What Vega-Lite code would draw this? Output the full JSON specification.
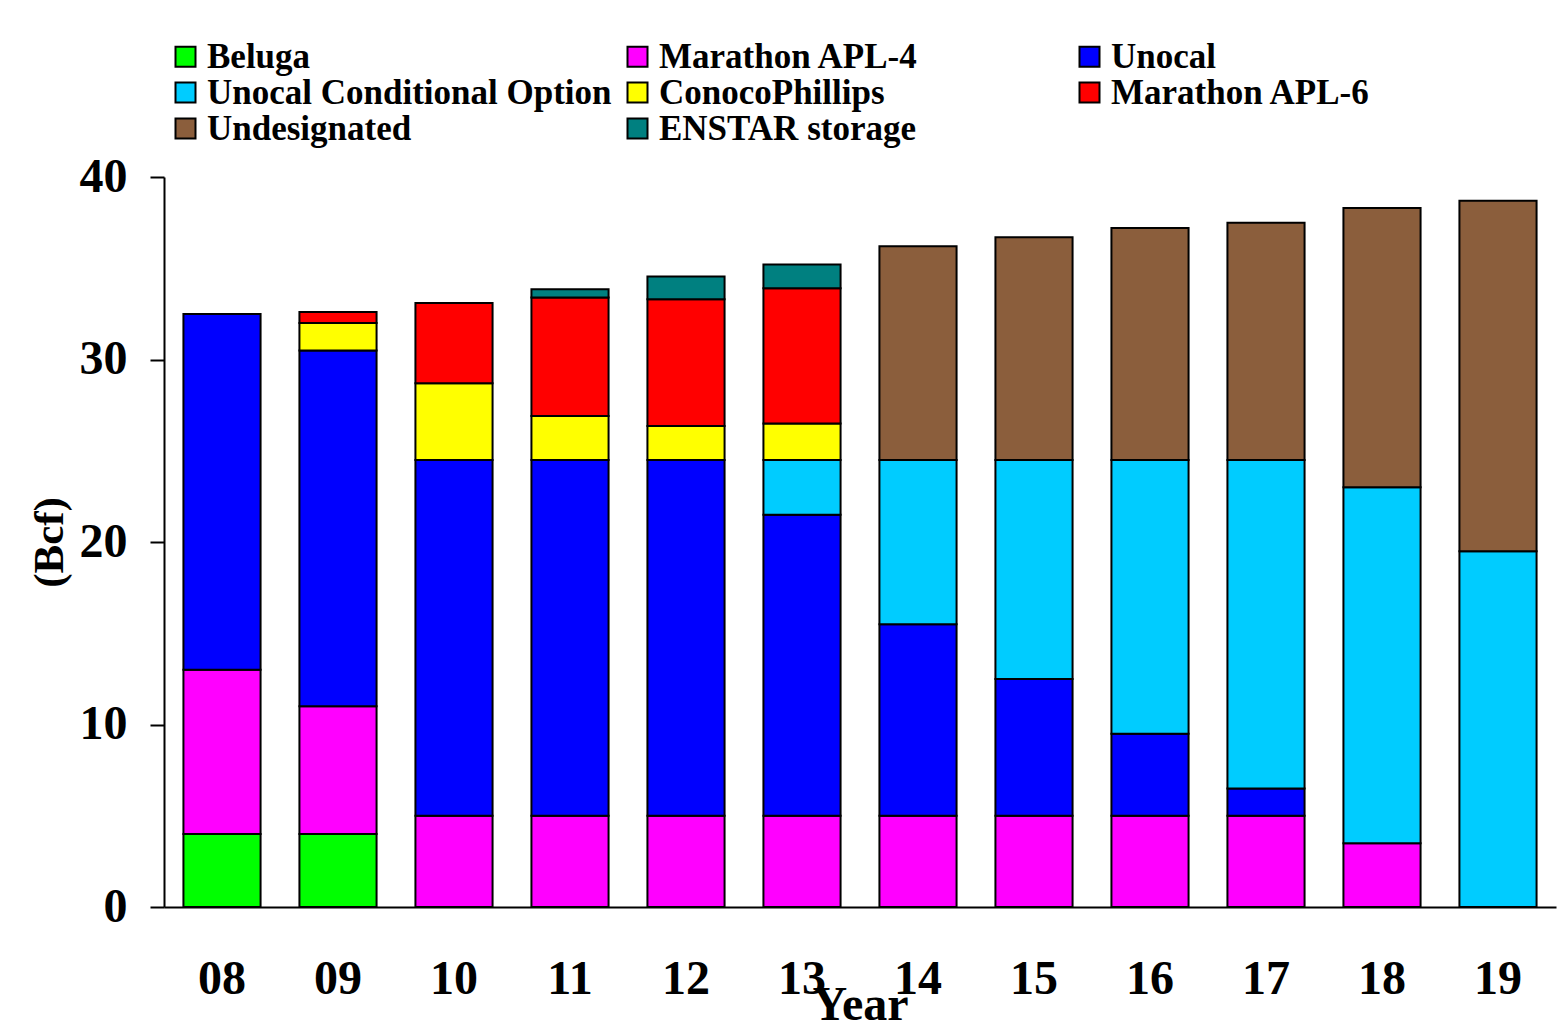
{
  "$schema": "https://vega.github.io/schema/vega-lite/v6.json",
  "autosize": {"type": "none"},
  "width": 1392,
  "height": 730,
  "padding": {"left": 164, "top": 177, "right": 3, "bottom": 127},
  "background": "white",
  "config": {
    "view": {"stroke": null},
    "font": "Liberation Serif"
  },
  "datasets": {
    "series": [
      {"source": "Beluga", "rank": 1},
      {"source": "Marathon APL-4", "rank": 2},
      {"source": "Unocal", "rank": 3},
      {"source": "Unocal Conditional Option", "rank": 4},
      {"source": "ConocoPhillips", "rank": 5},
      {"source": "Marathon APL-6", "rank": 6},
      {"source": "Undesignated", "rank": 7},
      {"source": "ENSTAR storage", "rank": 8}
    ],
    "supply": [
      {"year": "08", "source": "Beluga", "bcf": 4},
      {"year": "08", "source": "Marathon APL-4", "bcf": 9},
      {"year": "08", "source": "Unocal", "bcf": 19.5},
      {"year": "09", "source": "Beluga", "bcf": 4},
      {"year": "09", "source": "Marathon APL-4", "bcf": 7},
      {"year": "09", "source": "Unocal", "bcf": 19.5},
      {"year": "09", "source": "ConocoPhillips", "bcf": 1.5},
      {"year": "09", "source": "Marathon APL-6", "bcf": 0.6},
      {"year": "10", "source": "Marathon APL-4", "bcf": 5},
      {"year": "10", "source": "Unocal", "bcf": 19.5},
      {"year": "10", "source": "ConocoPhillips", "bcf": 4.2},
      {"year": "10", "source": "Marathon APL-6", "bcf": 4.4},
      {"year": "11", "source": "Marathon APL-4", "bcf": 5},
      {"year": "11", "source": "Unocal", "bcf": 19.5},
      {"year": "11", "source": "ConocoPhillips", "bcf": 2.4},
      {"year": "11", "source": "Marathon APL-6", "bcf": 6.5},
      {"year": "11", "source": "ENSTAR storage", "bcf": 0.45},
      {"year": "12", "source": "Marathon APL-4", "bcf": 5},
      {"year": "12", "source": "Unocal", "bcf": 19.5},
      {"year": "12", "source": "ConocoPhillips", "bcf": 1.85},
      {"year": "12", "source": "Marathon APL-6", "bcf": 6.95},
      {"year": "12", "source": "ENSTAR storage", "bcf": 1.25},
      {"year": "13", "source": "Marathon APL-4", "bcf": 5},
      {"year": "13", "source": "Unocal", "bcf": 16.5},
      {"year": "13", "source": "Unocal Conditional Option", "bcf": 3},
      {"year": "13", "source": "ConocoPhillips", "bcf": 2},
      {"year": "13", "source": "Marathon APL-6", "bcf": 7.4},
      {"year": "13", "source": "ENSTAR storage", "bcf": 1.3},
      {"year": "14", "source": "Marathon APL-4", "bcf": 5},
      {"year": "14", "source": "Unocal", "bcf": 10.5},
      {"year": "14", "source": "Unocal Conditional Option", "bcf": 9},
      {"year": "14", "source": "Undesignated", "bcf": 11.7},
      {"year": "15", "source": "Marathon APL-4", "bcf": 5},
      {"year": "15", "source": "Unocal", "bcf": 7.5},
      {"year": "15", "source": "Unocal Conditional Option", "bcf": 12},
      {"year": "15", "source": "Undesignated", "bcf": 12.2},
      {"year": "16", "source": "Marathon APL-4", "bcf": 5},
      {"year": "16", "source": "Unocal", "bcf": 4.5},
      {"year": "16", "source": "Unocal Conditional Option", "bcf": 15},
      {"year": "16", "source": "Undesignated", "bcf": 12.7},
      {"year": "17", "source": "Marathon APL-4", "bcf": 5},
      {"year": "17", "source": "Unocal", "bcf": 1.5},
      {"year": "17", "source": "Unocal Conditional Option", "bcf": 18},
      {"year": "17", "source": "Undesignated", "bcf": 13},
      {"year": "18", "source": "Marathon APL-4", "bcf": 3.5},
      {"year": "18", "source": "Unocal Conditional Option", "bcf": 19.5},
      {"year": "18", "source": "Undesignated", "bcf": 15.3},
      {"year": "19", "source": "Unocal Conditional Option", "bcf": 19.5},
      {"year": "19", "source": "Undesignated", "bcf": 19.2}
    ]
  },
  "data": {"name": "supply"},
  "transform": [
    {"lookup": "source", "from": {"data": {"name": "series"}, "key": "source", "fields": ["rank"]}}
  ],
  "mark": {"type": "bar", "stroke": "black", "strokeWidth": 2},
  "encoding": {
    "x": {
      "field": "year",
      "type": "ordinal",
      "scale": {"paddingInner": 0.335, "paddingOuter": 0.1675},
      "axis": {
        "title": "Year",
        "titleFont": "Liberation Serif",
        "titleFontSize": 48,
        "titleFontWeight": "bold",
        "titleColor": "black",
        "titleBaseline": "alphabetic",
        "titleY": 112,
        "labelFont": "Liberation Serif",
        "labelFontSize": 48,
        "labelFontWeight": "bold",
        "labelColor": "black",
        "labelAngle": 0,
        "labelPadding": 48,
        "ticks": false,
        "tickSize": 0,
        "domainColor": "black",
        "domainWidth": 2
      }
    },
    "y": {
      "field": "bcf",
      "type": "quantitative",
      "stack": "zero",
      "scale": {"domain": [0, 40], "nice": false},
      "axis": {
        "title": "(Bcf)",
        "values": [0, 10, 20, 30, 40],
        "grid": false,
        "titleFont": "Liberation Serif",
        "titleFontSize": 43,
        "titleFontWeight": "bold",
        "titleColor": "black",
        "titleBaseline": "alphabetic",
        "titleX": -102,
        "labelFont": "Liberation Serif",
        "labelFontSize": 48,
        "labelFontWeight": "bold",
        "labelColor": "black",
        "labelPadding": 23,
        "tickSize": 14,
        "tickWidth": 2,
        "tickColor": "black",
        "domainColor": "black",
        "domainWidth": 2
      }
    },
    "color": {
      "field": "source",
      "type": "nominal",
      "sort": ["Beluga", "Marathon APL-4", "Unocal", "Unocal Conditional Option", "ConocoPhillips", "Marathon APL-6", "Undesignated", "ENSTAR storage"],
      "scale": {
        "domain": ["Beluga", "Marathon APL-4", "Unocal", "Unocal Conditional Option", "ConocoPhillips", "Marathon APL-6", "Undesignated", "ENSTAR storage"],
        "range": ["#00ff00", "#ff00ff", "#0000ff", "#00ccff", "#ffff00", "#ff0000", "#8b5e3c", "#008080"]
      },
      "legend": {
        "title": null,
        "orient": "none",
        "legendX": 4,
        "legendY": -138,
        "direction": "horizontal",
        "columns": 3,
        "gridAlign": "all",
        "columnPadding": 8,
        "rowPadding": 0,
        "symbolType": "square",
        "symbolSize": 400,
        "symbolStrokeColor": "black",
        "symbolStrokeWidth": 2,
        "symbolOpacity": 1,
        "labelFont": "Liberation Serif",
        "labelFontSize": 35,
        "labelFontWeight": "bold",
        "labelColor": "black",
        "labelOffset": 4,
        "labelLimit": 1000
      }
    },
    "order": {"field": "rank", "type": "quantitative", "sort": "ascending"}
  }
}
